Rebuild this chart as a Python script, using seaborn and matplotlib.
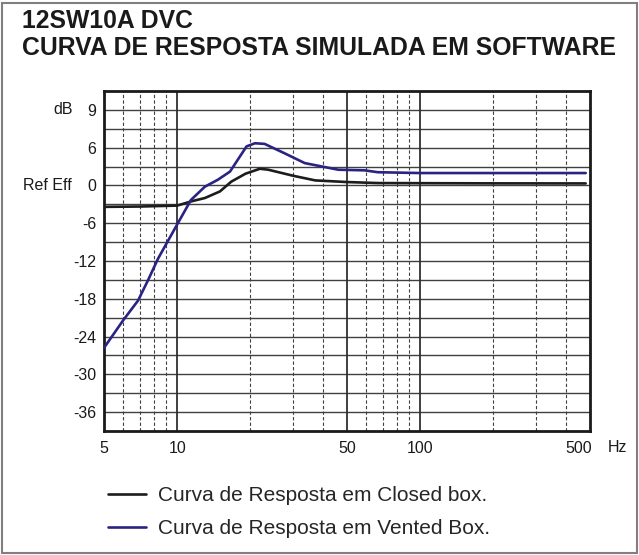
import numpy as np
import pandas as pd
import matplotlib
matplotlib.use("Agg")
import matplotlib.pyplot as plt
import matplotlib.transforms as mtransforms
import seaborn as sns
from matplotlib.patches import Rectangle

# ---------------- data ----------------
title_lines = ["12SW10A DVC", "CURVA DE RESPOSTA SIMULADA EM SOFTWARE"]
series_names = ["Curva de Resposta em Closed box.", "Curva de Resposta em Vented Box."]

closed_freq = [5, 7, 10, 11.5, 13, 15, 16.7, 19.1, 21.9, 23.7, 30, 37, 50, 67, 100, 200, 480]
closed_db = [-3.4, -3.35, -3.2, -2.5, -2.0, -0.95, 0.6, 1.86, 2.65, 2.5, 1.54, 0.8, 0.54,
             0.38, 0.36, 0.33, 0.32]

vented_freq = [5, 6, 6.9, 7.6, 8.35, 10, 11.4, 13, 14.7, 16.5, 19.3, 20.9, 22.9, 27.7,
               33.5, 46, 59, 67, 100, 200, 480]
vented_db = [-25.8, -21.4, -18.3, -15.0, -11.6, -6.2, -2.3, -0.2, 0.9, 2.2, 6.2, 6.7, 6.6,
             5.1, 3.55, 2.5, 2.4, 2.1, 1.97, 1.97, 1.97]

ytick_pos = [12, 6, 0, -6, -12, -18, -24, -30, -36]
ytick_labels = ["9", "6", "0", "-6", "-12", "-18", "-24", "-30", "-36"]
xtick_pos = [5, 10, 50, 100, 500]
xtick_labels = ["5", "10", "50", "100", "500"]
hgrid = list(range(-36, 13, 3))
vgrid_dashed = [6, 7, 8, 9, 20, 30, 40, 60, 70, 80, 90, 200, 300, 400]
vgrid_solid = [10, 50, 100]

# ---------------- figure ----------------
sns.set_theme(style="white")
plt.rcParams["font.family"] = ["Liberation Sans", "DejaVu Sans"]

W, H = 639, 555
fig = plt.figure(figsize=(W / 100, H / 100), dpi=100)
ax = fig.add_axes([104 / W, 1 - 431 / H, (590 - 104) / W, (431 - 91) / H])

df = pd.concat([
    pd.DataFrame({"freq": closed_freq, "db": closed_db, "series": series_names[0]}),
    pd.DataFrame({"freq": vented_freq, "db": vented_db, "series": series_names[1]}),
])
palette = {series_names[0]: "#1c1c1c", series_names[1]: "#2b2383"}

# grid
for y in hgrid:
    ax.axhline(y, color="#404040", lw=1.0, zorder=1)
for x in vgrid_dashed:
    ax.axvline(x, color="#404040", lw=0.8, ls=(0, (3, 2)), zorder=1)
for x in vgrid_solid:
    ax.axvline(x, color="#303030", lw=1.3, zorder=1)

sns.lineplot(data=df, x="freq", y="db", hue="series", palette=palette,
             estimator=None, lw=1.9, ax=ax, zorder=3)

ax.set_xscale("log")
ax.set_xlim(5, 500)
ax.set_ylim(-39, 15)
ax.set_xticks(xtick_pos)
ax.set_xticklabels(xtick_labels)
ax.minorticks_off()
ax.set_yticks(ytick_pos)
ax.set_yticklabels(ytick_labels)
ax.tick_params(axis="both", length=0, labelsize=11.5, colors="#1a1a1a")
ax.tick_params(axis="y", pad=5.5)
ax.tick_params(axis="x", pad=7)
ax.set_xlabel("")
ax.set_ylabel("")
for s in ax.spines.values():
    s.set_visible(True)
    s.set_color("#1a1a1a")
    s.set_linewidth(2.0)

# the "500" label sits a little left of the axis end in the reference
last = ax.get_xticklabels()[-1]
last.set_transform(last.get_transform() + mtransforms.ScaledTranslation(-11 / 100, 0, fig.dpi_scale_trans))

handles, labels = ax.get_legend_handles_labels()
ax.get_legend().remove()

# extra labels
fig.text(73 / W, 1 - 110 / H, "dB", ha="right", va="center", fontsize=11.5, color="#1a1a1a")
fig.text(72 / W, 1 - 185.5 / H, "Ref Eff", ha="right", va="center", fontsize=11.5, color="#1a1a1a")
fig.text(617 / W, 1 - 447 / H, "Hz", ha="center", va="center", fontsize=11.5, color="#1a1a1a")

# title
fig.text(22 / W, 1 - 28 / H, title_lines[0], ha="left", va="baseline", fontsize=17.8,
         fontweight="bold", color="#1a1a1a")
fig.text(22 / W, 1 - 55 / H, title_lines[1], ha="left", va="baseline", fontsize=17.8,
         fontweight="bold", color="#1a1a1a")

# legend
fig.legend(handles, labels, loc="upper left", bbox_to_anchor=(108 / W, 1 - 486 / H),
           frameon=False, fontsize=15, handlelength=1.8, handletextpad=0.62,
           labelspacing=0.67, borderpad=0, borderaxespad=0)

# outer frame
fig.patches.append(Rectangle((0.003, 0.003), 0.994, 0.992, transform=fig.transFigure,
                             fill=False, edgecolor="#808080", lw=1.5))

fig.savefig("out.png", dpi=100)
